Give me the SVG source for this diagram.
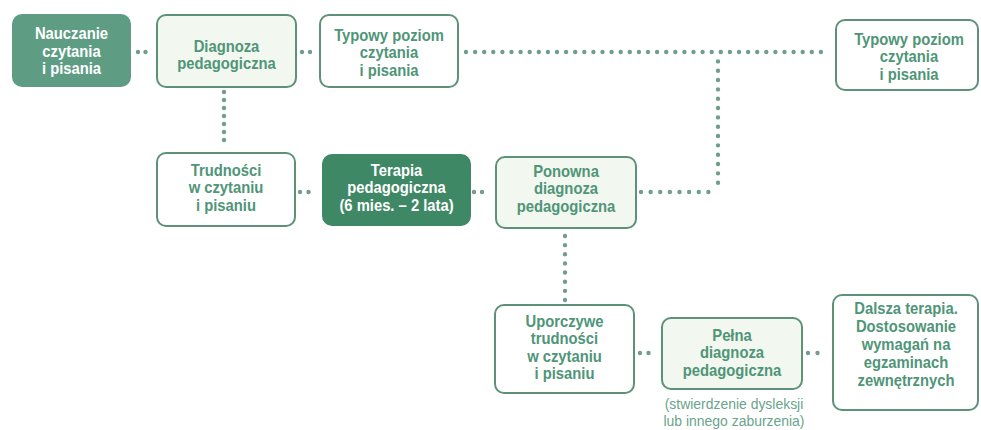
<svg xmlns="http://www.w3.org/2000/svg" width="981" height="430" viewBox="0 0 981 430">
<style>
.box{fill:#ffffff;stroke:#5e917a;stroke-width:2}
.lite{fill:#f2f7ef;stroke:#5e917a;stroke-width:2}
.fill1{fill:#5e9d84;stroke:#5e9d84;stroke-width:2}
.fill2{fill:#3f8866;stroke:#3f8866;stroke-width:2}
.t{font-family:"Liberation Sans",Arial,sans-serif;font-weight:bold;font-size:17px;text-anchor:middle;fill:#4f9578}
.w{fill:#ffffff}
.cap{font-family:"Liberation Sans",Arial,sans-serif;font-weight:normal;font-size:15px;text-anchor:middle;fill:#6aa48b}
.dot{stroke:#6f9f8a;stroke-width:4.4;stroke-linecap:round;fill:none}
</style>
<rect width="981" height="430" fill="#ffffff"/>
<g id="connectors">
<line class="dot" x1="138" y1="52" x2="153" y2="52" stroke-dasharray="0 7.5"/>
<line class="dot" x1="302" y1="52" x2="318" y2="52" stroke-dasharray="0 8"/>
<line class="dot" x1="466" y1="52" x2="830" y2="52" stroke-dasharray="0 9.1"/>
<line class="dot" x1="718" y1="61.4" x2="718" y2="192" stroke-dasharray="0 9.33"/>
<line class="dot" x1="641" y1="192" x2="718" y2="192" stroke-dasharray="0 9.625"/>
<line class="dot" x1="224" y1="92" x2="224" y2="148" stroke-dasharray="0 8"/>
<line class="dot" x1="300" y1="192" x2="317" y2="192" stroke-dasharray="0 8.5"/>
<line class="dot" x1="474" y1="192" x2="490" y2="192" stroke-dasharray="0 8"/>
<line class="dot" x1="565" y1="236" x2="565" y2="300" stroke-dasharray="0 9.14"/>
<line class="dot" x1="640" y1="353" x2="657" y2="353" stroke-dasharray="0 8.5"/>
<line class="dot" x1="808" y1="353" x2="827" y2="353" stroke-dasharray="0 9.5"/>
</g>
<g id="n1">
<rect class="fill1" x="13" y="15" width="117" height="71" rx="9"/>
<text class="t w" transform="translate(71.5 0) scale(0.87 1)"><tspan x="0" y="39.5">Nauczanie</tspan><tspan x="0" y="57">czytania</tspan><tspan x="0" y="74">i pisania</tspan></text>
</g>
<g id="n2">
<rect class="lite" x="157" y="15" width="139" height="72" rx="9"/>
<text class="t" transform="translate(226.5 0) scale(0.87 1)"><tspan x="0" y="52">Diagnoza</tspan><tspan x="0" y="69">pedagogiczna</tspan></text>
</g>
<g id="n3">
<rect class="box" x="320" y="15" width="138" height="72" rx="9"/>
<text class="t" transform="translate(389 0) scale(0.87 1)"><tspan x="0" y="41">Typowy poziom</tspan><tspan x="0" y="58.5">czytania</tspan><tspan x="0" y="76">i pisania</tspan></text>
</g>
<g id="n4">
<rect class="box" x="836" y="20" width="142" height="70" rx="9"/>
<text class="t" transform="translate(909 0) scale(0.87 1)"><tspan x="0" y="45">Typowy poziom</tspan><tspan x="0" y="62.5">czytania</tspan><tspan x="0" y="80">i pisania</tspan></text>
</g>
<g id="n5">
<rect class="box" x="157" y="153" width="138" height="73" rx="9"/>
<text class="t" transform="translate(226 0) scale(0.87 1)"><tspan x="0" y="176">Trudności</tspan><tspan x="0" y="193.5">w czytaniu</tspan><tspan x="0" y="211">i pisaniu</tspan></text>
</g>
<g id="n6">
<rect class="fill2" x="323" y="155" width="147" height="70" rx="9"/>
<text class="t w" transform="translate(396.5 0) scale(0.87 1)"><tspan x="0" y="176">Terapia</tspan><tspan x="0" y="193.5">pedagogiczna</tspan><tspan x="0" y="211.5">(6 mies. – 2 lata)</tspan></text>
</g>
<g id="n7">
<rect class="lite" x="496" y="157" width="140" height="71" rx="9"/>
<text class="t" transform="translate(566 0) scale(0.87 1)"><tspan x="0" y="177">Ponowna</tspan><tspan x="0" y="194.5">diagnoza</tspan><tspan x="0" y="212">pedagogiczna</tspan></text>
</g>
<g id="n8">
<rect class="box" x="495" y="305" width="139" height="88" rx="9"/>
<text class="t" transform="translate(564.5 0) scale(0.87 1)"><tspan x="0" y="327">Uporczywe</tspan><tspan x="0" y="344.5">trudności</tspan><tspan x="0" y="362">w czytaniu</tspan><tspan x="0" y="379.5">i pisaniu</tspan></text>
</g>
<g id="n9">
<rect class="lite" x="662" y="318" width="140" height="71" rx="9"/>
<text class="t" transform="translate(732 0) scale(0.87 1)"><tspan x="0" y="341">Pełna</tspan><tspan x="0" y="358.5">diagnoza</tspan><tspan x="0" y="376">pedagogiczna</tspan></text>
<text class="cap" transform="translate(734 0) scale(0.93 1)"><tspan x="0" y="409">(stwierdzenie dysleksji</tspan><tspan x="0" y="426">lub innego zaburzenia)</tspan></text>
</g>
<g id="n10">
<rect class="box" x="833" y="295" width="145" height="115" rx="9"/>
<text class="t" transform="translate(906 0) scale(0.87 1)"><tspan x="0" y="314">Dalsza terapia.</tspan><tspan x="0" y="332">Dostosowanie</tspan><tspan x="0" y="350">wymagań na</tspan><tspan x="0" y="368">egzaminach</tspan><tspan x="0" y="386">zewnętrznych</tspan></text>
</g>
</svg>
